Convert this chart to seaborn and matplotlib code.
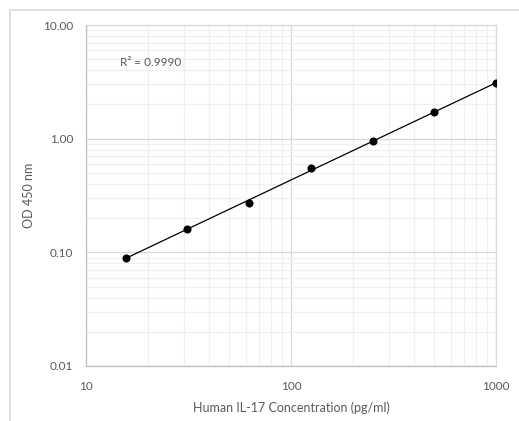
import numpy as np
import pandas as pd
import matplotlib
matplotlib.use("Agg")
import matplotlib.pyplot as plt
from matplotlib.patches import Rectangle
from matplotlib.ticker import LogLocator, FixedLocator, FixedFormatter, NullFormatter
import seaborn as sns

# Data
concentration = [15.625, 31.25, 62.5, 125, 250, 500, 1000]
od450 = [0.090, 0.160, 0.271, 0.555, 0.947, 1.72, 3.08]
x_ticks = [10, 100, 1000]
x_tick_labels = ["10", "100", "1000"]
y_ticks = [0.01, 0.1, 1, 10]
y_tick_labels = ["0.01", "0.10", "1.00", "10.00"]
r2_label = "R² = 0.9990"
x_label = "Human IL-17 Concentration (pg/ml)"
y_label = "OD 450 nm"

df = pd.DataFrame({"conc": concentration, "od": od450})

sns.set_theme(style="white")
plt.rcParams["font.family"] = ["Lato", "DejaVu Sans"]

fig = plt.figure(figsize=(5.19, 4.21), dpi=100)
ax = fig.add_axes([86/519, 1-366/421, (496-86)/519, (366-25)/421])

# Outer chart frame
fig.patches.append(Rectangle((10/519, -0.05), 1.2, 1-10/421+0.05, transform=fig.transFigure,
                             fill=False, edgecolor="#d9d9d9", linewidth=1.2, zorder=0))

# Power trendline (fit in log-log space)
lx = np.log10(df["conc"].to_numpy())
ly = np.log10(df["od"].to_numpy())
b, a = np.polyfit(lx, ly, 1)
xs = np.logspace(lx.min(), lx.max(), 50)
trend = pd.DataFrame({"conc": xs, "od": 10 ** (a + b * np.log10(xs))})
sns.lineplot(data=trend, x="conc", y="od", ax=ax, color="black", linewidth=0.9, zorder=3)
sns.scatterplot(data=df, x="conc", y="od", ax=ax, color="black", s=34, edgecolor="black",
                linewidth=0, zorder=4)

ax.set_xscale("log")
ax.set_yscale("log")
ax.set_xlim(10, 1000)
ax.set_ylim(0.01, 10)

ax.xaxis.set_major_locator(FixedLocator(x_ticks))
ax.xaxis.set_major_formatter(FixedFormatter(x_tick_labels))
ax.yaxis.set_major_locator(FixedLocator(y_ticks))
ax.yaxis.set_major_formatter(FixedFormatter(y_tick_labels))
ax.xaxis.set_minor_locator(LogLocator(base=10, subs=np.arange(2, 10)))
ax.yaxis.set_minor_locator(LogLocator(base=10, subs=np.arange(2, 10)))
ax.xaxis.set_minor_formatter(NullFormatter())
ax.yaxis.set_minor_formatter(NullFormatter())

ax.grid(True, which="major", color="#d9d9d9", linewidth=0.9)
ax.grid(True, which="minor", color="#f0f0f0", linewidth=0.9)
ax.set_axisbelow(True)

ax.tick_params(axis="both", which="both", length=0, labelsize=8.5, labelcolor="#595959")
ax.tick_params(axis="x", pad=11)
ax.tick_params(axis="y", pad=9)

for side in ["top", "right"]:
    ax.spines[side].set_color("#d9d9d9")
    ax.spines[side].set_linewidth(0.9)
for side in ["left", "bottom"]:
    ax.spines[side].set_color("#bfbfbf")
    ax.spines[side].set_linewidth(0.9)

ax.set_xlabel(x_label, fontsize=9, color="#595959")
ax.set_ylabel(y_label, fontsize=9, color="#595959")
ax.xaxis.set_label_coords(0.5, -0.105)
ax.yaxis.set_label_coords(-0.125, 0.5)

ax.text(0.083, 0.891, r2_label, transform=ax.transAxes, ha="left", va="center",
        fontsize=8.5, color="#595959")

fig.savefig("out.png", dpi=100, facecolor="white")
